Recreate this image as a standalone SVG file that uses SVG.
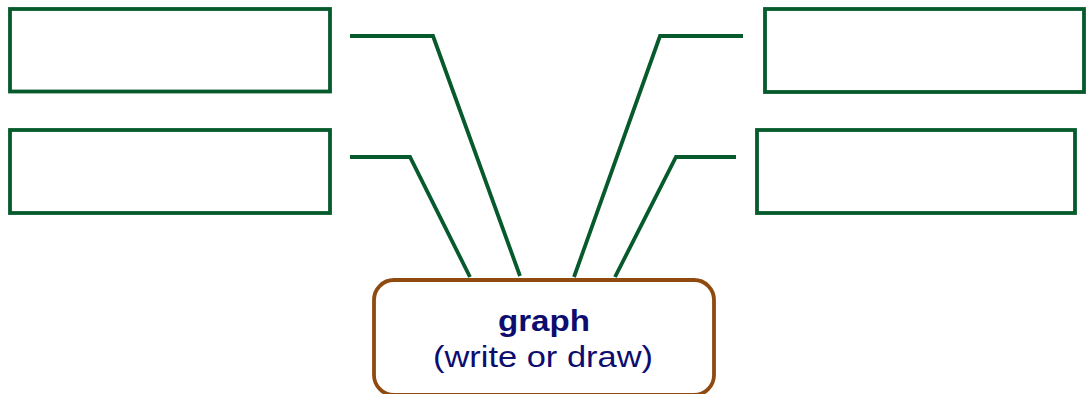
<svg xmlns="http://www.w3.org/2000/svg" width="1092" height="394" viewBox="0 0 1092 394">
<style>
.box{fill:#fff;stroke:#065a2c;stroke-width:3.8}
.conn{fill:none;stroke:#065a2c;stroke-width:3.8;stroke-linejoin:miter}
.center{fill:#fff;stroke:#8f4a10;stroke-width:3.8}
.t{fill:#0d0d70;font-family:"Liberation Sans",Arial,sans-serif;text-anchor:middle}
</style>
<rect width="1092" height="394" fill="#fff"/>
<g id="connectors">
<polyline class="conn" points="350,36 433,36 520,276"/>
<polyline class="conn" points="350,157 410,157 470,277"/>
<polyline class="conn" points="743,36 660,36 574,277"/>
<polyline class="conn" points="736,157 676,157 615,277"/>
</g>
<g id="box-top-left"><rect class="box" x="10" y="9" width="320" height="82.5"/></g>
<g id="box-bottom-left"><rect class="box" x="10" y="130" width="320" height="83"/></g>
<g id="box-top-right"><rect class="box" x="765" y="9" width="319" height="83"/></g>
<g id="box-bottom-right"><rect class="box" x="757" y="130" width="318" height="83"/></g>
<g id="graph">
<rect class="center" x="374" y="280" width="340" height="115" rx="20" ry="20"/>
<text class="t" x="544" y="331" font-size="29" font-weight="bold" textLength="92" lengthAdjust="spacingAndGlyphs">graph</text>
<text class="t" x="543" y="367" font-size="29" textLength="220" lengthAdjust="spacingAndGlyphs">(write or draw)</text>
</g>
</svg>
